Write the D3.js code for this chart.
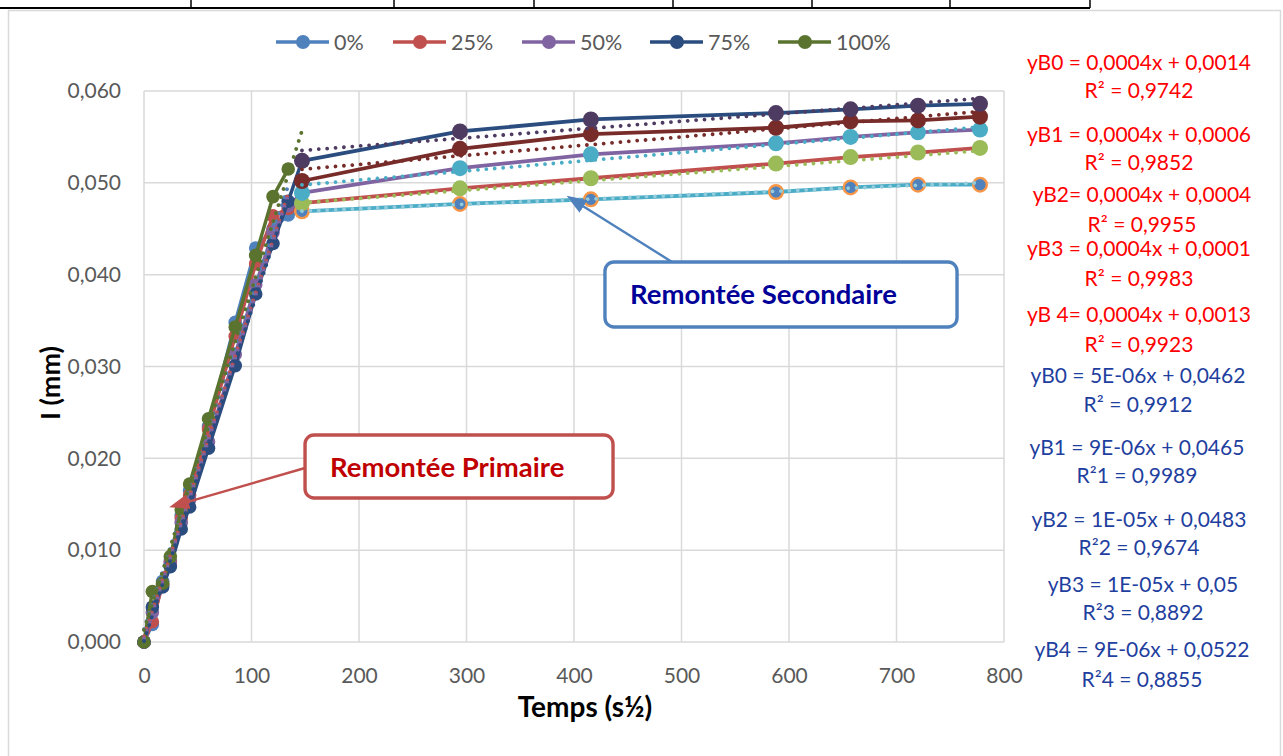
<!DOCTYPE html>
<html><head><meta charset="utf-8">
<script src="https://cdn.jsdelivr.net/npm/d3@7"></script>
<style>
body{margin:0;background:#fff}
text{font-family:Lato,"Open Sans",sans-serif}
</style>
</head><body>
<svg id="c" width="1283" height="756"></svg>
<script>
// ---------------- DATA ----------------
const legendLabels = ["0%", "25%", "50%", "75%", "100%"];
// time axis (s½)
const xPrimary = [0, 7.75, 17.32, 24.49, 34.64, 42.43, 60, 84.85, 103.92, 120, 134.16, 146.97];
const primary0   = [0, 0.0019, 0.0066, 0.0088, 0.0138, 0.0165, 0.0235, 0.0348, 0.0429, 0.0450, 0.0465, 0.0469];
const primary25  = [0, 0.0022, 0.0063, 0.0087, 0.0135, 0.0160, 0.0232, 0.0333, 0.0412, 0.0464, 0.0472, 0.0478];
const primary50  = [0, 0.0032, 0.0062, 0.0085, 0.0130, 0.0155, 0.0218, 0.0313, 0.0389, 0.0446, 0.0475, 0.0489];
const primary75  = [0, 0.0038, 0.0060, 0.0082, 0.0123, 0.0147, 0.0211, 0.0301, 0.0379, 0.0434, 0.0480, 0.0524];
const primary100 = [0, 0.0055, 0.0064, 0.0093, 0.0144, 0.0172, 0.0243, 0.0343, 0.0421, 0.0485, 0.0515, null];

const xSecondary = [146.97, 293.94, 415.69, 587.88, 657.27, 720, 777.69];
const secondaryB0 = [0.0469, 0.0477, 0.0482, 0.0490, 0.0495, 0.0498, 0.0498];
const secondaryB1 = [0.0478, 0.0494, 0.0505, 0.0521, 0.0528, 0.0533, 0.0538];
const secondaryB2 = [0.0489, 0.0516, 0.0531, 0.0543, 0.0550, 0.0555, 0.0558];
const secondaryB3 = [0.0502, 0.0537, 0.0553, 0.0560, 0.0567, 0.0568, 0.0572];
const secondaryB4 = [0.0524, 0.0556, 0.0569, 0.0576, 0.0580, 0.0584, 0.0586];

// linear trend lines (slope, intercept)
const primarySlopes     = [0.00036, 0.00036, 0.00036, 0.00036, 0.00037];
const primaryIntercepts = [0.0014, 0.0006, 0.0004, 0.0001, 0.0013];
const primaryTrendEnd   = [134.16, 134.16, 134.16, 134.16, 146.97];
const secondarySlopes     = [0.0000049, 0.000009, 0.00001, 0.00001, 0.000009];
const secondaryIntercepts = [0.0462, 0.0465, 0.0483, 0.05, 0.0522];

const xTicks = [0, 100, 200, 300, 400, 500, 600, 700, 800];
const yTicks = [0, 0.01, 0.02, 0.03, 0.04, 0.05, 0.06];
const yTickLabels = ["0,000", "0,010", "0,020", "0,030", "0,040", "0,050", "0,060"];

const eqRed = [
  ["yB0 = 0,0004x + 0,0014", "R² = 0,9742"],
  ["yB1 = 0,0004x + 0,0006", "R² = 0,9852"],
  ["yB2= 0,0004x + 0,0004", "R² = 0,9955"],
  ["yB3 = 0,0004x + 0,0001", "R² = 0,9983"],
  ["yB 4= 0,0004x + 0,0013", "R² = 0,9923"]
];
const eqBlue = [
  ["yB0 = 5E-06x + 0,0462", "R² = 0,9912"],
  ["yB1 = 9E-06x + 0,0465", "R²1 = 0,9989"],
  ["yB2 = 1E-05x + 0,0483", "R²2 = 0,9674"],
  ["yB3 = 1E-05x + 0,05", "R²3 = 0,8892"],
  ["yB4 = 9E-06x + 0,0522", "R²4 = 0,8855"]
];
const xTitle = "Temps (s½)";
const yTitle = "I (mm)";
const notePrimary = "Remontée Primaire";
const noteSecondary = "Remontée Secondaire";

// ---------------- STYLE ----------------
const primaryColors = ["#4F81BD", "#C0504D", "#8064A2", "#2B4C7E", "#5A7430"];
const secLine   = ["#4BACC6", "#C0504D", "#8064A2", "#772C2A", "#2B4C7E"];
const secFill   = ["#4F81BD", "#9BBB59", "#4BACC6", "#772C2A", "#4D3B62"];
const secStroke = ["#F79646", "none", "none", "none", "none"];
const secTrend  = ["#93CDDD", "#9BBB59", "#4BACC6", "#772C2A", "#4D3B62"];

const svg = d3.select("#c");
const W = 1283, H = 756;
const L = 144, R = 1004, T = 91, B = 642;
const x = d3.scaleLinear().domain([0, 800]).range([L, R]);
const y = d3.scaleLinear().domain([0, 0.06]).range([B, T]);

svg.append("rect").attr("width", W).attr("height", H).attr("fill", "#fff");
// spreadsheet cell borders at top
svg.append("line").attr("x1", 0).attr("x2", 1090).attr("y1", 8).attr("y2", 8).attr("stroke", "#000").attr("stroke-width", 2);
[191, 394, 534, 673, 812, 950, 1090].forEach(v => svg.append("line").attr("x1", v).attr("x2", v).attr("y1", 0).attr("y2", 8).attr("stroke", "#000").attr("stroke-width", 1.5));
// chart area border
svg.append("rect").attr("x", 8.5).attr("y", 10.5).attr("width", 1272).attr("height", 760)
  .attr("fill", "#fff").attr("stroke", "#D9D9D9").attr("stroke-width", 1.5);

// grid
const g = svg.append("g");
g.selectAll(".gx").data(xTicks).join("line")
  .attr("x1", d => x(d)).attr("x2", d => x(d)).attr("y1", T).attr("y2", B)
  .attr("stroke", "#D9D9D9").attr("stroke-width", 1.5);
g.selectAll(".gy").data(yTicks).join("line")
  .attr("x1", L).attr("x2", R).attr("y1", d => y(d)).attr("y2", d => y(d))
  .attr("stroke", "#D9D9D9").attr("stroke-width", 1.5);

// axes labels
const ax = svg.append("g").attr("transform", `translate(0,${B})`)
  .call(d3.axisBottom(x).tickValues(xTicks).tickSize(0).tickPadding(26).tickFormat(d3.format("d")));
ax.select(".domain").remove();
ax.selectAll("text").attr("font-size", 21).attr("fill", "#595959").attr("font-family", "Lato");
const ay = svg.append("g").attr("transform", `translate(${L},0)`)
  .call(d3.axisLeft(y).tickValues(yTicks).tickSize(0).tickPadding(23).tickFormat((d, i) => yTickLabels[i]));
ay.select(".domain").remove();
ay.selectAll("text").attr("font-size", 21).attr("fill", "#595959").attr("font-family", "Lato");

svg.append("text").attr("x", 585).attr("y", 717).attr("text-anchor", "middle")
  .attr("font-size", 28).attr("font-weight", "bold").attr("fill", "#000").text(xTitle);
svg.append("text").attr("transform", "translate(49,383) rotate(-90)").attr("text-anchor", "middle")
  .attr("dominant-baseline", "central").attr("font-size", 27).attr("font-weight", "bold").attr("fill", "#000").text(yTitle);

// series
const line = d3.line().defined(d => d[1] != null).x(d => x(d[0])).y(d => y(d[1]));
const primary = [primary0, primary25, primary50, primary75, primary100];
const secondary = [secondaryB0, secondaryB1, secondaryB2, secondaryB3, secondaryB4];
const plot = svg.append("g");

primary.forEach((vals, i) => {
  const pts = xPrimary.map((xv, j) => [xv, vals[j]]);
  plot.append("path").attr("d", line(pts)).attr("fill", "none")
    .attr("stroke", primaryColors[i]).attr("stroke-width", 3.5).attr("stroke-linejoin", "round");
  plot.append("g").selectAll("circle").data(pts.filter(p => p[1] != null)).join("circle")
    .attr("cx", d => x(d[0])).attr("cy", d => y(d[1])).attr("r", 6.8).attr("fill", primaryColors[i]);
});
secondary.forEach((vals, i) => {
  const pts = xSecondary.map((xv, j) => [xv, vals[j]]);
  plot.append("path").attr("d", line(pts)).attr("fill", "none")
    .attr("stroke", secLine[i]).attr("stroke-width", 3.8).attr("stroke-linejoin", "round");
});
secondary.forEach((vals, i) => {
  const pts = xSecondary.map((xv, j) => [xv, vals[j]]);
  plot.append("g").selectAll("circle").data(pts).join("circle")
    .attr("cx", d => x(d[0])).attr("cy", d => y(d[1]))
    .attr("r", secStroke[i] === "none" ? 8 : 6.8)
    .attr("fill", secFill[i]).attr("stroke", secStroke[i]).attr("stroke-width", 2.4);
});

// trend lines (dotted, on top)
const dot = sel => sel.attr("fill", "none").attr("stroke-width", 3.8)
  .attr("stroke-linecap", "round").attr("stroke-dasharray", "0.01 8.4");
primarySlopes.forEach((s, i) => {
  const x0 = 0, x1 = primaryTrendEnd[i];
  plot.append("line").attr("x1", x(x0)).attr("y1", y(primaryIntercepts[i] + s * x0))
    .attr("x2", x(x1)).attr("y2", y(primaryIntercepts[i] + s * x1))
    .attr("stroke", primaryColors[i]).call(dot);
});
secondarySlopes.forEach((s, i) => {
  const x0 = xSecondary[0], x1 = xSecondary[xSecondary.length - 1];
  plot.append("line").attr("x1", x(x0)).attr("y1", y(secondaryIntercepts[i] + s * x0))
    .attr("x2", x(x1)).attr("y2", y(secondaryIntercepts[i] + s * x1))
    .attr("stroke", secTrend[i]).call(dot);
});

// legend
const legX = [276, 393, 522, 650, 778];
const lg = svg.append("g");
legendLabels.forEach((lab, i) => {
  const lx = legX[i], ly = 42;
  lg.append("line").attr("x1", lx).attr("x2", lx + 53).attr("y1", ly).attr("y2", ly)
    .attr("stroke", primaryColors[i]).attr("stroke-width", 3.5);
  lg.append("circle").attr("cx", lx + 27).attr("cy", ly).attr("r", 7).attr("fill", primaryColors[i]);
  lg.append("text").attr("x", lx + 58).attr("y", ly).attr("dominant-baseline", "central")
    .attr("font-size", 21.5).attr("fill", "#595959").text(lab);
});

// equations
const eqY = [[70, 98], [142, 170], [202, 232], [256, 286], [322, 352]];
const eqYb = [[383, 412], [455, 483], [527, 555], [592, 620], [657, 687]];
const eqXr = [1139, 1139, 1142, 1139, 1139];
const eqXb = [1138, 1137, 1139, 1143, 1142];
eqRed.forEach((pair, i) => pair.forEach((t, k) =>
  svg.append("text").attr("x", eqXr[i]).attr("y", eqY[i][k]).attr("text-anchor", "middle")
    .attr("font-size", 21).attr("fill", "#FF0000").text(t)));
eqBlue.forEach((pair, i) => pair.forEach((t, k) =>
  svg.append("text").attr("x", eqXb[i]).attr("y", eqYb[i][k]).attr("text-anchor", "middle")
    .attr("font-size", 21).attr("fill", "#1F3F9F").text(t)));

// annotations
const defs = svg.append("defs");
[["arR", "#C0504D"], ["arB", "#4F81BD"]].forEach(([id, c]) => {
  defs.append("marker").attr("id", id).attr("viewBox", "0 0 10 10").attr("refX", 8).attr("refY", 5)
    .attr("markerWidth", 20).attr("markerHeight", 15).attr("orient", "auto").attr("markerUnits", "userSpaceOnUse")
    .attr("preserveAspectRatio", "none")
    .append("path").attr("d", "M0,0 L10,5 L0,10 Z").attr("fill", c);
});
// primaire
svg.append("line").attr("x1", x(149.8)).attr("y1", y(0.01895)).attr("x2", x(27)).attr("y2", y(0.0148))
  .attr("stroke", "#C0504D").attr("stroke-width", 2.4).attr("marker-end", "url(#arR)");
svg.append("rect").attr("x", x(149.8)).attr("y", y(0.02254)).attr("width", x(436.3) - x(149.8))
  .attr("height", y(0.01568) - y(0.02254)).attr("rx", 9).attr("fill", "#fff")
  .attr("stroke", "#C0504D").attr("stroke-width", 3.4);
svg.append("text").attr("x", x(149.8) + 25).attr("y", 477).attr("font-size", 27.5).attr("font-weight", "bold")
  .attr("fill", "#C00000").text(notePrimary);
// secondaire
svg.append("line").attr("x1", x(491.2)).attr("y1", y(0.04138)).attr("x2", x(396.3)).attr("y2", y(0.04835))
  .attr("stroke", "#4F81BD").attr("stroke-width", 2.4).attr("marker-end", "url(#arB)");
svg.append("rect").attr("x", x(428.8)).attr("y", y(0.04138)).attr("width", x(756.3) - x(428.8))
  .attr("height", y(0.0343) - y(0.04138)).attr("rx", 9).attr("fill", "#fff")
  .attr("stroke", "#4F81BD").attr("stroke-width", 3.4);
svg.append("text").attr("x", x(428.8) + 25).attr("y", 304).attr("font-size", 27.5).attr("font-weight", "bold")
  .attr("fill", "#000099").text(noteSecondary);
</script>
</body></html>
